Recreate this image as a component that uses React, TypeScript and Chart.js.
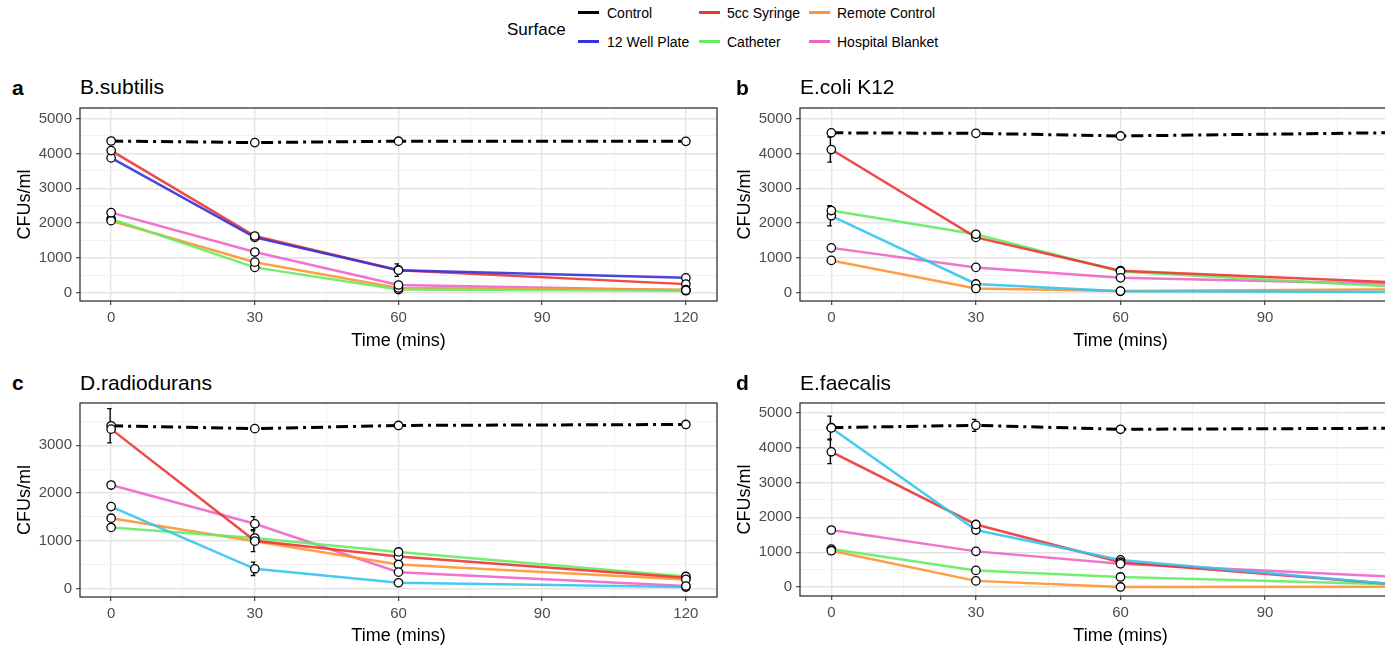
import React, { useEffect, useRef } from "react";
import { Chart, registerables } from "chart.js";

Chart.register(...registerables);

const FONT = "'Liberation Sans', Arial, Helvetica, sans-serif";

// ---------- data ----------
const times = [0, 30, 60, 120];
const xTicksMajor = [0, 30, 60, 90, 120];
const xTickStep = 15;
const yTickStep = 500;

const surfaceNames = ["Control", "12 Well Plate", "5cc Syringe", "Catheter", "Remote Control", "Hospital Blanket"];

// Panel a — B.subtilis
const subtilisControl = [4355, 4310, 4350, 4345];
const subtilisWellPlate = [3870, 1590, 650, 430];
const subtilisSyringe = [4080, 1630, 650, 250];
const subtilisCatheter = [2120, 730, 95, 60];
const subtilisRemote = [2070, 880, 140, 90];
const subtilisBlanket = [2300, 1170, 225, 75];
const subtilisSyringeErr = [0, 60, 180, 0];

// Panel b — E.coli K12
const coliControl = [4590, 4575, 4500, 4600];
const coliWellPlate = [2210, 255, 45, 25];
const coliSyringe = [4110, 1590, 635, 280];
const coliCatheter = [2360, 1680, 615, 150];
const coliRemote = [930, 125, 50, 100];
const coliBlanket = [1290, 730, 430, 250];
const coliSyringeErr = [360, 0, 0, 0];
const coliCatheterErr = [120, 0, 0, 0];
const coliWellPlateErr = [290, 0, 0, 0];

// Panel c — D.radiodurans
const radioControl = [3410, 3350, 3417, 3438];
const radioWellPlate = [1715, 410, 118, 28];
const radioSyringe = [3340, 1000, 667, 222];
const radioCatheter = [1278, 1056, 764, 250];
const radioRemote = [1472, 990, 500, 188];
const radioBlanket = [2167, 1354, 340, 50];
const radioControlErr = [360, 0, 0, 0];
const radioSyringeErr = [0, 230, 0, 0];
const radioBlanketErr = [0, 150, 0, 0];
const radioWellPlateErr = [0, 140, 0, 0];

// Panel d — E.faecalis
const faecalisControl = [4568, 4633, 4520, 4552];
const faecalisWellPlate = [4560, 1635, 780, 40];
const faecalisSyringe = [3875, 1795, 714, 50];
const faecalisCatheter = [1090, 479, 291, 67];
const faecalisRemote = [1043, 179, 5, 10];
const faecalisBlanket = [1636, 1024, 667, 279];
const faecalisControlErr = [330, 170, 0, 0];
const faecalisSyringeErr = [340, 0, 0, 0];

// ---------- styles ----------
const colControl = "#000000";
const colWellBlue = "rgba(51,51,221,0.9)";
const colWellCyan = "rgba(51,196,240,0.9)";
const colSyringe = "rgba(240,52,52,0.9)";
const colCatheter = "rgba(100,236,100,0.9)";
const colRemote = "rgba(255,148,48,0.9)";
const colBlanket = "rgba(238,100,200,0.9)";

function mk(label: string, values: number[], color: string, errs?: number[], dashed?: boolean) {
  return {
    label,
    data: times.map((t, i) => ({ x: t, y: values[i] })),
    errors: errs || [],
    borderColor: color,
    backgroundColor: color,
    borderWidth: dashed ? 3 : 2.5,
    borderDash: dashed ? [12, 5, 3, 5] : [],
    pointRadius: 0,
    tension: 0,
    fill: false,
  };
}

function stepTicks(min: number, max: number, step: number) {
  const out: { value: number }[] = [];
  for (let v = Math.ceil(min / step) * step; v <= max; v += step) out.push({ value: v });
  return out;
}

const pointsPlugin = {
  id: "ptsErr",
  afterDatasetsDraw(chart: any) {
    const ctx = chart.ctx;
    const xs = chart.scales.x;
    const ys = chart.scales.y;
    ctx.save();
    ctx.strokeStyle = "#000";
    ctx.lineWidth = 1.3;
    chart.data.datasets.forEach((ds: any) => {
      ds.data.forEach((p: any, i: number) => {
        const e = ds.errors[i];
        if (!e) return;
        const x = xs.getPixelForValue(p.x);
        const y1 = ys.getPixelForValue(p.y - e);
        const y2 = ys.getPixelForValue(p.y + e);
        ctx.beginPath();
        ctx.moveTo(x - 1, y1);
        ctx.lineTo(x - 1, y2);
        ctx.moveTo(x - 4, y1);
        ctx.lineTo(x + 0.5, y1);
        ctx.moveTo(x - 4, y2);
        ctx.lineTo(x + 0.5, y2);
        ctx.stroke();
      });
    });
    chart.data.datasets.forEach((ds: any) => {
      ds.data.forEach((p: any) => {
        const x = xs.getPixelForValue(p.x);
        const y = ys.getPixelForValue(p.y);
        ctx.beginPath();
        ctx.arc(x, y, 4.2, 0, Math.PI * 2);
        ctx.fillStyle = "#fff";
        ctx.fill();
        ctx.stroke();
      });
    });
    const a = chart.chartArea;
    ctx.strokeStyle = "#333333";
    ctx.lineWidth = 1.3;
    ctx.strokeRect(a.left, a.top, a.right - a.left, a.bottom - a.top);
    ctx.restore();
  },
};

type PanelProps = {
  left: number;
  top: number;
  width: number;
  height: number;
  padTop: number;
  padRight: number;
  yMin: number;
  yMax: number;
  xMin: number;
  xMax: number;
  datasets: any[];
};

function Panel(props: PanelProps) {
  const ref = useRef<HTMLCanvasElement>(null);
  useEffect(() => {
    const c = ref.current;
    if (!c) return;
    const chart = new Chart(c, {
      type: "line",
      data: { datasets: props.datasets },
      plugins: [pointsPlugin],
      options: {
        animation: false,
        responsive: false,
        devicePixelRatio: 1,
        layout: { padding: { top: props.padTop, right: props.padRight, left: 0, bottom: 0 } },
        plugins: { legend: { display: false }, tooltip: { enabled: false }, title: { display: false } },
        scales: {
          x: {
            type: "linear",
            min: props.xMin,
            max: props.xMax,
            afterBuildTicks: (axis: any) => {
              axis.ticks = stepTicks(props.xMin, props.xMax, xTickStep);
            },
            afterFit: (s: any) => {
              s.height = props.height - 196 - props.padTop;
            },
            border: { display: false },
            grid: {
              color: (ctx: any) => (ctx.tick && ctx.tick.value % 30 === 0 ? "#e4e4e4" : "#f0f0f0"),
              lineWidth: (ctx: any) => (ctx.tick && ctx.tick.value % 30 === 0 ? 1.4 : 0.9),
              tickColor: (ctx: any) => (ctx.tick && ctx.tick.value % 30 === 0 ? "#333333" : "rgba(0,0,0,0)"),
              tickWidth: 1.1,
              tickLength: 4,
              drawTicks: true,
            },
            ticks: {
              autoSkip: false,
              maxRotation: 0,
              padding: 4,
              color: "#4d4d4d",
              font: { family: FONT, size: 15 },
              callback: (v: any) => (xTicksMajor.includes(Number(v)) ? String(v) : ""),
            },
            title: {
              display: true,
              text: "Time (mins)",
              color: "#000",
              font: { family: FONT, size: 18, lineHeight: 1.2 },
              padding: { top: 0, bottom: 8 },
            },
          },
          y: {
            type: "linear",
            min: props.yMin,
            max: props.yMax,
            afterBuildTicks: (axis: any) => {
              axis.ticks = stepTicks(props.yMin, props.yMax, yTickStep);
            },
            afterFit: (s: any) => {
              s.width = 80;
            },
            border: { display: false },
            grid: {
              color: (ctx: any) => (ctx.tick && ctx.tick.value % 1000 === 0 ? "#e4e4e4" : "#f0f0f0"),
              lineWidth: (ctx: any) => (ctx.tick && ctx.tick.value % 1000 === 0 ? 1.4 : 0.9),
              tickColor: (ctx: any) => (ctx.tick && ctx.tick.value % 1000 === 0 ? "#333333" : "rgba(0,0,0,0)"),
              tickWidth: 1.1,
              tickLength: 4,
              drawTicks: true,
            },
            ticks: {
              autoSkip: false,
              padding: 4,
              color: "#4d4d4d",
              font: { family: FONT, size: 15 },
              callback: (v: any) => (Number(v) % 1000 === 0 ? String(v) : ""),
            },
            title: {
              display: true,
              text: "CFUs/ml",
              color: "#000",
              font: { family: FONT, size: 18, lineHeight: 1.2 },
              padding: { top: 14, bottom: 0 },
            },
          },
        },
      } as any,
    });
    return () => chart.destroy();
  }, []);
  return (
    <canvas
      ref={ref}
      width={props.width}
      height={props.height}
      style={{ position: "absolute", left: props.left, top: props.top, width: props.width, height: props.height }}
    />
  );
}

function Txt(p: { x: number; y: number; size: number; bold?: boolean; children: any; color?: string }) {
  return (
    <div
      style={{
        position: "absolute",
        left: p.x,
        top: p.y,
        fontSize: p.size,
        lineHeight: 1,
        fontWeight: p.bold ? 700 : 400,
        whiteSpace: "nowrap",
        color: p.color || "#000",
      }}
    >
      {p.children}
    </div>
  );
}

function Swatch(p: { x: number; y: number; color: string }) {
  return <div style={{ position: "absolute", left: p.x, top: p.y, width: 21, height: 3, background: p.color }} />;
}

export default function App() {
  const dsA = [
    mk(surfaceNames[0], subtilisControl, colControl, undefined, true),
    mk(surfaceNames[1], subtilisWellPlate, colWellBlue),
    mk(surfaceNames[2], subtilisSyringe, colSyringe, subtilisSyringeErr),
    mk(surfaceNames[3], subtilisCatheter, colCatheter),
    mk(surfaceNames[4], subtilisRemote, colRemote),
    mk(surfaceNames[5], subtilisBlanket, colBlanket),
  ];
  const dsB = [
    mk(surfaceNames[0], coliControl, colControl, undefined, true),
    mk(surfaceNames[1], coliWellPlate, colWellCyan, coliWellPlateErr),
    mk(surfaceNames[2], coliSyringe, colSyringe, coliSyringeErr),
    mk(surfaceNames[3], coliCatheter, colCatheter, coliCatheterErr),
    mk(surfaceNames[4], coliRemote, colRemote),
    mk(surfaceNames[5], coliBlanket, colBlanket),
  ];
  const dsC = [
    mk(surfaceNames[0], radioControl, colControl, radioControlErr, true),
    mk(surfaceNames[1], radioWellPlate, colWellCyan, radioWellPlateErr),
    mk(surfaceNames[2], radioSyringe, colSyringe, radioSyringeErr),
    mk(surfaceNames[3], radioCatheter, colCatheter),
    mk(surfaceNames[4], radioRemote, colRemote),
    mk(surfaceNames[5], radioBlanket, colBlanket, radioBlanketErr),
  ];
  const dsD = [
    mk(surfaceNames[0], faecalisControl, colControl, faecalisControlErr, true),
    mk(surfaceNames[1], faecalisWellPlate, colWellCyan),
    mk(surfaceNames[2], faecalisSyringe, colSyringe, faecalisSyringeErr),
    mk(surfaceNames[3], faecalisCatheter, colCatheter),
    mk(surfaceNames[4], faecalisRemote, colRemote),
    mk(surfaceNames[5], faecalisBlanket, colBlanket),
  ];

  return (
    <div
      style={{
        position: "fixed",
        left: 0,
        top: 0,
        width: 1395,
        height: 653,
        background: "#fff",
        overflow: "hidden",
        fontFamily: FONT,
      }}
    >
      {/* legend */}
      <Txt x={507} y={21} size={17}>Surface</Txt>
      <Swatch x={578} y={11} color="#000" />
      <Txt x={607} y={6} size={14}>{surfaceNames[0]}</Txt>
      <Swatch x={578} y={40} color="#3333dd" />
      <Txt x={607} y={35} size={14}>{surfaceNames[1]}</Txt>
      <Swatch x={699} y={11} color="#f03434" />
      <Txt x={727} y={6} size={14}>{surfaceNames[2]}</Txt>
      <Swatch x={699} y={40} color="#64ec64" />
      <Txt x={727} y={35} size={14}>{surfaceNames[3]}</Txt>
      <Swatch x={809} y={11} color="#ff9430" />
      <Txt x={837} y={6} size={14}>{surfaceNames[4]}</Txt>
      <Swatch x={809} y={40} color="#ee64c8" />
      <Txt x={837} y={35} size={14}>{surfaceNames[5]}</Txt>

      {/* panel titles */}
      <Txt x={12} y={77} size={21} bold>a</Txt>
      <Txt x={80} y={76} size={21}>B.subtilis</Txt>
      <Txt x={12} y={372} size={21} bold>c</Txt>
      <Txt x={80} y={372} size={21}>D.radiodurans</Txt>

      <Panel left={0} top={95} width={740} height={265} padTop={10} padRight={23}
        xMin={-6.5} xMax={126.5} yMin={-234} yMax={5302} datasets={dsA} />
      <Panel left={0} top={390} width={740} height={265} padTop={11} padRight={23}
        xMin={-6.5} xMax={126.5} yMin={-181} yMax={3888} datasets={dsC} />

      <div style={{ position: "absolute", left: 720, top: 0, width: 665, height: 653, overflow: "hidden" }}>
        <Txt x={16} y={77} size={21} bold>b</Txt>
        <Txt x={80} y={76} size={21}>E.coli K12</Txt>
        <Txt x={16} y={372} size={21} bold>d</Txt>
        <Txt x={80} y={372} size={21}>E.faecalis</Txt>
        <Panel left={0} top={95} width={744} height={265} padTop={10} padRight={23}
          xMin={-6.5} xMax={126.5} yMin={-234} yMax={5302} datasets={dsB} />
        <Panel left={0} top={390} width={744} height={265} padTop={10} padRight={23}
          xMin={-6.5} xMax={126.5} yMin={-254} yMax={5273} datasets={dsD} />
      </div>
    </div>
  );
}
